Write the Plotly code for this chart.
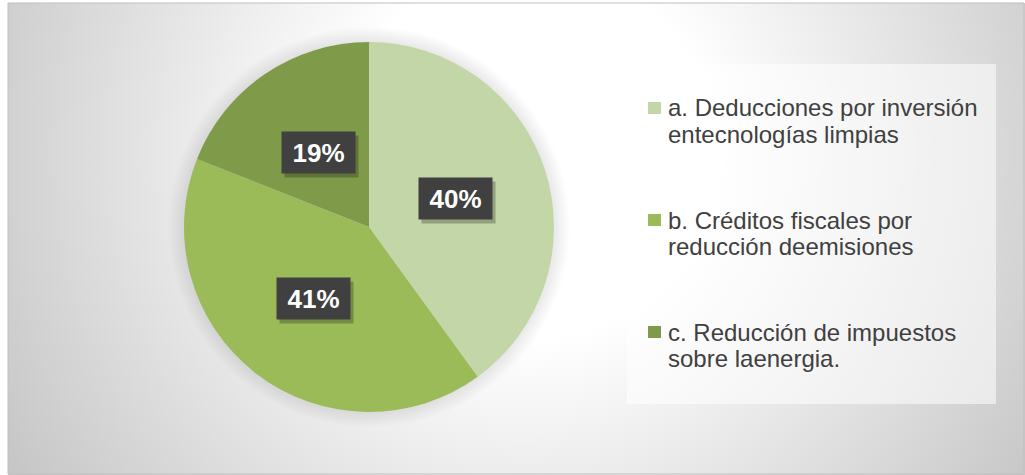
import math
import urllib.parse
import plotly.graph_objects as go

# ---- data ----
labels = [
    "a. Deducciones por inversión<br>entecnologías limpias",
    "b. Créditos fiscales por<br>reducción deemisiones",
    "c. Reducción de impuestos<br>sobre laenergia.",
]
values = [40, 41, 19]
colors = ["#c3d6a8", "#9bbb59", "#7f9b49"]
pct_labels = ["40%", "41%", "19%"]

W, H = 1025, 475
FONT = "Liberation Sans, Arial, sans-serif"

# pie geometry in pixels
CX, CY, R = 369, 227, 185


def px(x):
    return x / W


def py(y):
    return 1 - y / H


# background (radial gradient + soft shadow around the pie)
cw, ch = 1017, 472
pcx, pcy = CX - 8, CY - 3
sr = R + 16
svg = f"""<svg xmlns='http://www.w3.org/2000/svg' width='{cw}' height='{ch}' viewBox='0 0 {cw} {ch}'>
<defs>
<radialGradient id='g' gradientUnits='userSpaceOnUse' cx='520' cy='150' r='620'>
<stop offset='0' stop-color='#ffffff'/>
<stop offset='0.3' stop-color='#ffffff'/>
<stop offset='1' stop-color='#c4c4c4'/>
</radialGradient>
<radialGradient id='s' gradientUnits='userSpaceOnUse' cx='{pcx}' cy='{pcy}' r='{sr}'>
<stop offset='{(R - 2) / sr:.3f}' stop-color='#000000' stop-opacity='0.10'/>
<stop offset='1' stop-color='#000000' stop-opacity='0'/>
</radialGradient>
</defs>
<rect x='0' y='0' width='{cw}' height='{ch}' fill='url(#g)'/>
<circle cx='{pcx}' cy='{pcy}' r='{sr}' fill='url(#s)'/>
</svg>"""
src = "data:image/svg+xml;charset=utf-8," + urllib.parse.quote(svg)

fig = go.Figure()
fig.add_trace(go.Pie(
    labels=[l.replace("<br>", " ") for l in labels],
    values=values,
    marker=dict(colors=colors, line=dict(width=0)),
    sort=False,
    direction="clockwise",
    rotation=0,
    textinfo="none",
    hoverinfo="label+percent",
    showlegend=False,
    domain=dict(x=[px(CX - R), px(CX + R)], y=[py(CY + R), py(CY - R)]),
))

shapes = []
annotations = []

# chart border
shapes.append(dict(type="rect", xref="paper", yref="paper",
                   x0=px(8), x1=px(1024), y0=py(474), y1=py(3),
                   line=dict(color="#bfbfbf", width=1), fillcolor="rgba(0,0,0,0)",
                   layer="below"))

# legend box
shapes.append(dict(type="rect", xref="paper", yref="paper",
                   x0=px(627), x1=px(996), y0=py(404), y1=py(64),
                   line=dict(width=0), fillcolor="rgba(255,255,255,0.55)", layer="below"))

# legend items
item_top = 116  # baseline of first line of first item
item_gap = 112
line_gap = 26
for i, (lab, col) in enumerate(zip(labels, colors)):
    base = item_top + i * item_gap
    shapes.append(dict(type="rect", xref="paper", yref="paper",
                       x0=px(648), x1=px(661), y0=py(base - 2), y1=py(base - 14),
                       line=dict(width=0), fillcolor=col))
    for j, line in enumerate(lab.split("<br>")):
        annotations.append(dict(
            x=px(666), y=py(base + j * line_gap - 8), xref="paper", yref="paper",
            xanchor="left", yanchor="middle", text=line, showarrow=False,
            font=dict(family=FONT, size=24, color="#404040")))

# data labels (dark boxes) at mid-angle of each slice
total = sum(values)
cum = 0
for v, t in zip(values, pct_labels):
    mid = (cum + v / 2) / total * 2 * math.pi
    cum += v
    lx = CX + 0.49 * R * math.sin(mid)
    ly = CY - 0.49 * R * math.cos(mid)
    # shadow
    annotations.append(dict(
        x=px(lx + 3), y=py(ly + 4), xref="paper", yref="paper",
        xanchor="center", yanchor="middle", text=" ", showarrow=False,
        width=71, height=39, bgcolor="rgba(0,0,0,0.25)"))
    annotations.append(dict(
        x=px(lx), y=py(ly), xref="paper", yref="paper",
        xanchor="center", yanchor="middle", text="<b>%s</b>" % t, showarrow=False,
        width=71, height=39, bgcolor="#404040",
        font=dict(family=FONT, size=26, color="#ffffff")))

fig.update_layout(
    width=W, height=H,
    margin=dict(l=0, r=0, t=0, b=0),
    paper_bgcolor="#ffffff",
    plot_bgcolor="#ffffff",
    shapes=shapes,
    annotations=annotations,
    images=[dict(source=src, xref="paper", yref="paper",
                 x=px(8), y=py(3), sizex=px(1017), sizey=472 / H,
                 xanchor="left", yanchor="top", sizing="stretch", layer="below")],
    showlegend=False,
)

fig.write_html("out.html", config={"displayModeBar": False},
               post_script="document.body.style.margin='0px';")
